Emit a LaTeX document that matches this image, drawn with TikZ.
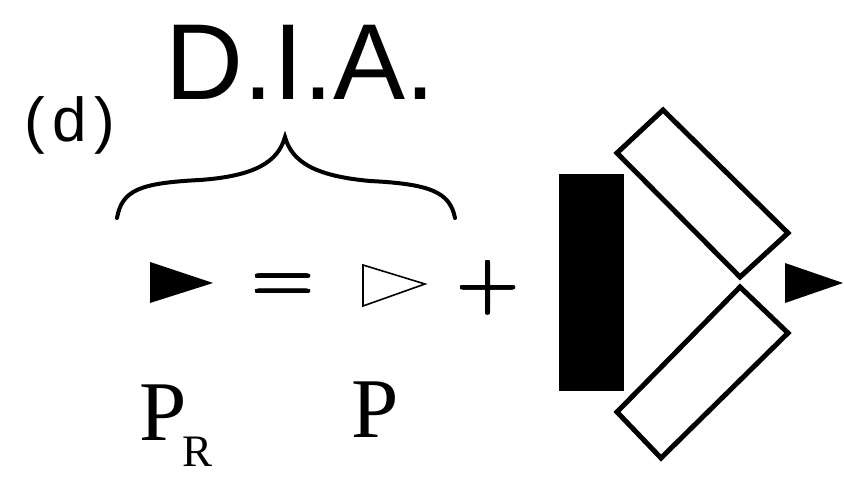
\documentclass[tikz,border=0pt]{standalone}
\usepackage{fontspec}
\usepackage{contour}
\newfontfamily\etiqfont{Liberation Sans}
\newfontfamily\letrafont[LetterSpace=12]{Liberation Sans}
\newfontfamily\potfont{Liberation Serif}
\contourlength{0.8pt}
\usetikzlibrary{calc}

\begin{document}
\begin{tikzpicture}[
    x=1pt, y=-1pt,
    % Definición de estilos
    titulo/.style={inner sep=0pt, font=\etiqfont\fontsize{108}{108}\selectfont},
    etiqueta/.style={inner sep=0pt, font=\letrafont\fontsize{62}{62}\selectfont},
    potencia/.style={inner sep=0pt, font=\potfont\fontsize{85}{85}\selectfont},
    subindice/.style={inner sep=0pt, font=\potfont\fontsize{45}{45}\selectfont},
    operador/.style={inner sep=0pt, font=\fontsize{85}{85}\selectfont},
    tri lleno/.style={fill=black, draw=none}, % Flecha llena (P_R)
    tri vacio/.style={draw=black, line width=1.6pt, line join=miter}, % Flecha vacía (P)
    llave/.style={draw=black, line width=4pt, line cap=round},
    placa/.style={draw=black, line width=5pt, fill=white, line join=miter},
    bloque/.style={fill=black}
]
    \useasboundingbox (0,0) rectangle (844,478);

    % =========================================================================
    % 1. Título y llave
    % =========================================================================
    \node[etiqueta, anchor=base west] (letra) at (24,142) {(d)};
    \node[titulo, anchor=base west] (dia) at (165,100) {D.I.A.};

    \coordinate (pico) at (285,137);
    \draw[llave] (117,218) .. controls (122,190) and (140,183) .. (200,180)
        .. controls (255,176) and (278,162) .. (pico)
        .. controls (292,162) and (315,176) .. (370,181)
        .. controls (430,184) and (450,192) .. (455,218);

    % =========================================================================
    % 2. Ecuación: flecha llena = flecha vacía +
    % =========================================================================
    \coordinate (t1a) at (150,262); \coordinate (t1b) at (150,303); \coordinate (t1c) at (213,283);
    \fill[tri lleno] (t1a) -- (t1c) -- (t1b) -- cycle;

    \node[operador, anchor=base] (igual) at (283,305) {\contour{black}{=}};

    \coordinate (t2a) at (363,265); \coordinate (t2b) at (363,306); \coordinate (t2c) at (425,284);
    \draw[tri vacio] (t2a) -- (t2c) -- (t2b) -- cycle;

    \node[operador, anchor=base] (mas) at (488,309) {\contour{black}{+}};

    % Etiquetas de potencia
    \node[potencia, anchor=base west] (pr) at (139,441) {P};
    \node[subindice, anchor=base west] (r) at (182,467) {R};
    \node[potencia, anchor=base west] (p) at (351,438) {P};

    % =========================================================================
    % 3. Bloque, placas inclinadas y flecha de salida
    % =========================================================================
    \fill[bloque] (559,174) rectangle (624,391);

    % Placa superior
    \draw[placa] (617,153) -- (663,110) -- (788,233) -- (740,277) -- cycle;
    % Placa inferior
    \draw[placa] (740,287) -- (788,333) -- (661,458) -- (617,412) -- cycle;

    \coordinate (t3a) at (785,263); \coordinate (t3b) at (785,303); \coordinate (t3c) at (843,283);
    \fill[tri lleno] (t3a) -- (t3c) -- (t3b) -- cycle;

\end{tikzpicture}
\end{document}
